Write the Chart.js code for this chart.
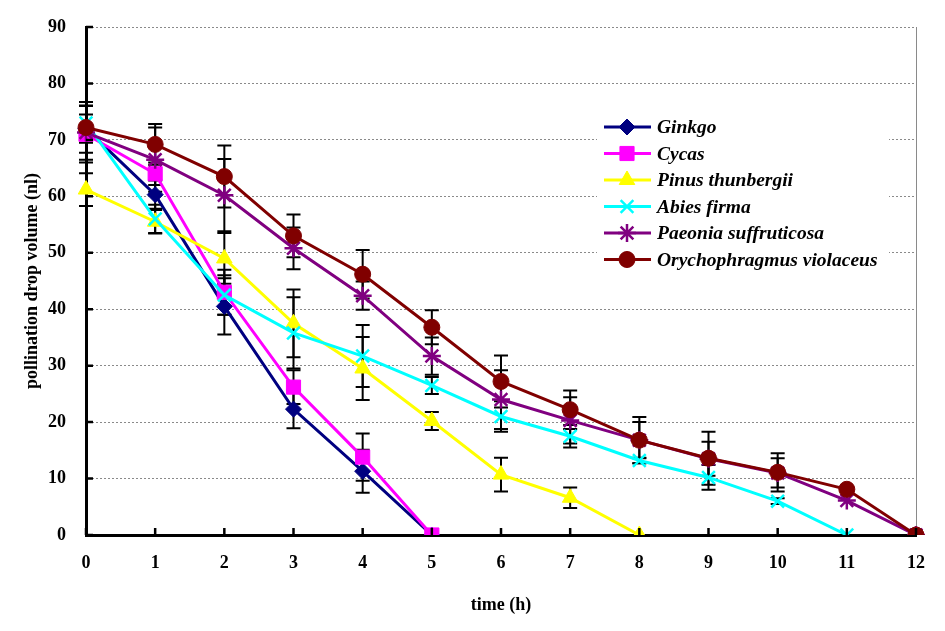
<!DOCTYPE html>
<html>
<head>
<meta charset="utf-8">
<script src="https://cdn.jsdelivr.net/npm/chart.js@4/dist/chart.umd.min.js"></script>
<style>
  html, body { margin: 0; padding: 0; background: #fff; }
  #wrap { width: 945px; height: 631px; }
</style>
</head>
<body>
<div id="wrap"><canvas id="c" width="945" height="631"></canvas></div>
<script>
// ---- data ----
const timeLabels = ["0","1","2","3","4","5","6","7","8","9","10","11","12"];
const seriesNames = ["Ginkgo","Cycas","Pinus thunbergii","Abies firma","Paeonia suffruticosa","Orychophragmus violaceus"];

const ginkgo   = [72.0, 60.3, 40.5, 22.3, 11.3, 0];
const cycas    = [71.0, 64.0, 43.0, 26.2, 13.8, 0];
const pinus    = [61.2, 55.5, 49.0, 37.5, 29.5, 20.2, 10.7, 6.6, 0];
const abies    = [73.0, 56.0, 42.5, 35.8, 31.7, 26.5, 21.0, 17.5, 13.2, 10.2, 6.0, 0];
const paeonia  = [71.3, 66.5, 60.2, 50.8, 42.4, 31.7, 24.0, 20.3, 16.8, 13.5, 11.0, 6.1, 0];
const orycho   = [72.2, 69.2, 63.5, 53.0, 46.2, 36.8, 27.2, 22.2, 16.8, 13.6, 11.1, 8.1, 0];

const ginkgoErr  = [2.5, 2.5, 5.0, 3.4, 3.8, 0];
const cycasErr   = [5.0, 2.0, 4.0, 3.0, 4.2, 0];
const pinusErr   = [2.9, 2.1, 4.5, 6.0, 5.6, 1.6, 3.0, 1.8, 0];
const abiesErr   = [3.0, 2.5, 3.5, 6.3, 5.5, 1.5, 2.7, 2.0, 0.5, 2.2, 0.5, 0];
const paeoniaErr = [4.8, 5.7, 6.4, 3.7, 2.5, 3.3, 5.2, 4.1, 3.2, 3.0, 2.6, 0, 0];
const orychoErr  = [4.5, 3.6, 5.5, 3.8, 4.3, 3.0, 4.6, 3.4, 4.1, 4.7, 3.4, 0, 0];

const yTicks = [0,10,20,30,40,50,60,70,80,90];

// ---- styles ----
const colors = ["#000080","#FF00FF","#FFFF00","#00FFFF","#800080","#800000"];
const pStyles = ["rectRot","rect","triangle","crossRot","star","circle"];
const pRadius = [8, 10, 9, 9, 9, 8];
const values = [ginkgo, cycas, pinus, abies, paeonia, orycho];
const errors = [ginkgoErr, cycasErr, pinusErr, abiesErr, paeoniaErr, orychoErr];

const datasets = seriesNames.map((n, i) => ({
  label: n,
  data: values[i],
  errors: errors[i],
  borderColor: colors[i],
  backgroundColor: colors[i],
  borderWidth: 3,
  pointStyle: pStyles[i],
  pointRadius: pRadius[i],
  pointHoverRadius: pRadius[i],
  pointBackgroundColor: colors[i],
  pointBorderColor: colors[i],
  pointBorderWidth: (pStyles[i] === "crossRot" || pStyles[i] === "star") ? 2.5 : 1,
  tension: 0,
  fill: false,
  order: 5 - i
}));

const FONT = "'Liberation Serif', 'Times New Roman', serif";

const decor = {
  id: 'decor',
  beforeDatasetsDraw(chart) {
    const ctx = chart.ctx, xs = chart.scales.x, ys = chart.scales.y;
    const a = chart.chartArea;
    ctx.save();
    ctx.strokeStyle = '#8a8a8a';
    ctx.lineWidth = 1;
    ctx.beginPath();
    ctx.moveTo(a.right + 0.5, a.top);
    ctx.lineTo(a.right + 0.5, a.bottom);
    ctx.stroke();
    // error bars
    ctx.strokeStyle = '#000';
    ctx.lineWidth = 2;
    chart.data.datasets.forEach(ds => {
      ds.errors.forEach((e, j) => {
        if (!e) return;
        const v = ds.data[j];
        const x = xs.getPixelForValue(j);
        const yt = ys.getPixelForValue(v + e);
        const yb = ys.getPixelForValue(v - e);
        ctx.beginPath();
        ctx.moveTo(x, yt); ctx.lineTo(x, yb);
        ctx.moveTo(x - 7, yt); ctx.lineTo(x + 7, yt);
        ctx.moveTo(x - 7, yb); ctx.lineTo(x + 7, yb);
        ctx.stroke();
      });
    });
    ctx.restore();
  },
  afterDraw(chart) {
    const ctx = chart.ctx, xs = chart.scales.x, ys = chart.scales.y;
    const a = chart.chartArea;
    ctx.save();
    ctx.strokeStyle = '#000';
    ctx.lineWidth = 2.5;
    ctx.beginPath();
    yTicks.forEach(v => {
      const y = ys.getPixelForValue(v);
      ctx.moveTo(a.left, y); ctx.lineTo(a.left + 7, y);
    });
    timeLabels.forEach((t, j) => {
      const x = xs.getPixelForValue(j);
      ctx.moveTo(x, a.bottom); ctx.lineTo(x, a.bottom - 7);
    });
    ctx.stroke();
    // legend
    const lx = 597, ly = 110;
    ctx.fillStyle = '#fff';
    ctx.fillRect(lx, ly, 292, 162);
    chart.data.datasets.forEach((ds, i) => {
      const y = 127 + i * 26.5;
      ctx.strokeStyle = ds.borderColor;
      ctx.lineWidth = 3;
      ctx.beginPath();
      ctx.moveTo(604, y); ctx.lineTo(651, y);
      ctx.stroke();
      ctx.fillStyle = ds.pointBackgroundColor;
      ctx.strokeStyle = ds.pointBorderColor;
      ctx.lineWidth = ds.pointBorderWidth;
      Chart.helpers.drawPoint(ctx, {pointStyle: ds.pointStyle, radius: ds.pointRadius, rotation: 0, borderWidth: ds.pointBorderWidth}, 627, y);
      ctx.fillStyle = '#000';
      ctx.font = "italic bold 19.5px " + FONT;
      ctx.textBaseline = 'middle';
      ctx.textAlign = 'left';
      ctx.fillText(ds.label, 657, y + 1);
    });
    ctx.restore();
  }
};

new Chart(document.getElementById('c'), {
  type: 'line',
  data: { labels: timeLabels, datasets },
  plugins: [decor],
  options: {
    responsive: false,
    animation: false,
    devicePixelRatio: 1,
    layout: { padding: { top: 27, right: 29, left: 0, bottom: 0 } },
    plugins: { legend: { display: false }, tooltip: { enabled: false } },
    scales: {
      x: {
        type: 'category',
        offset: false,
        grid: { display: false, drawTicks: false },
        border: { display: true, color: '#000', width: 3 },
        ticks: { color: '#000', padding: 18, font: { family: FONT, size: 18, weight: 'bold' }, maxRotation: 0, autoSkip: false },
        title: { display: true, text: 'time (h)', color: '#000', font: { family: FONT, size: 18, weight: 'bold' }, padding: { top: 0, bottom: 15 } },
        afterFit(s) { s.height = 96; s.paddingLeft = 0; s.paddingRight = 0; }
      },
      y: {
        min: 0, max: 90,
        grid: { color: '#8a8a8a', lineWidth: 1, drawTicks: false },
        border: { display: true, color: '#000', width: 3, dash: [2, 2] },
        ticks: { stepSize: 10, color: '#000', padding: 20, font: { family: FONT, size: 18, weight: 'bold' } },
        title: { display: true, text: 'pollination drop volume (nl)', color: '#000', font: { family: FONT, size: 18, weight: 'bold' }, padding: { top: 22, bottom: 0 } },
        afterFit(s) { s.width = 86; s.paddingTop = 0; s.paddingBottom = 0; }
      }
    }
  }
});
</script>
</body>
</html>
